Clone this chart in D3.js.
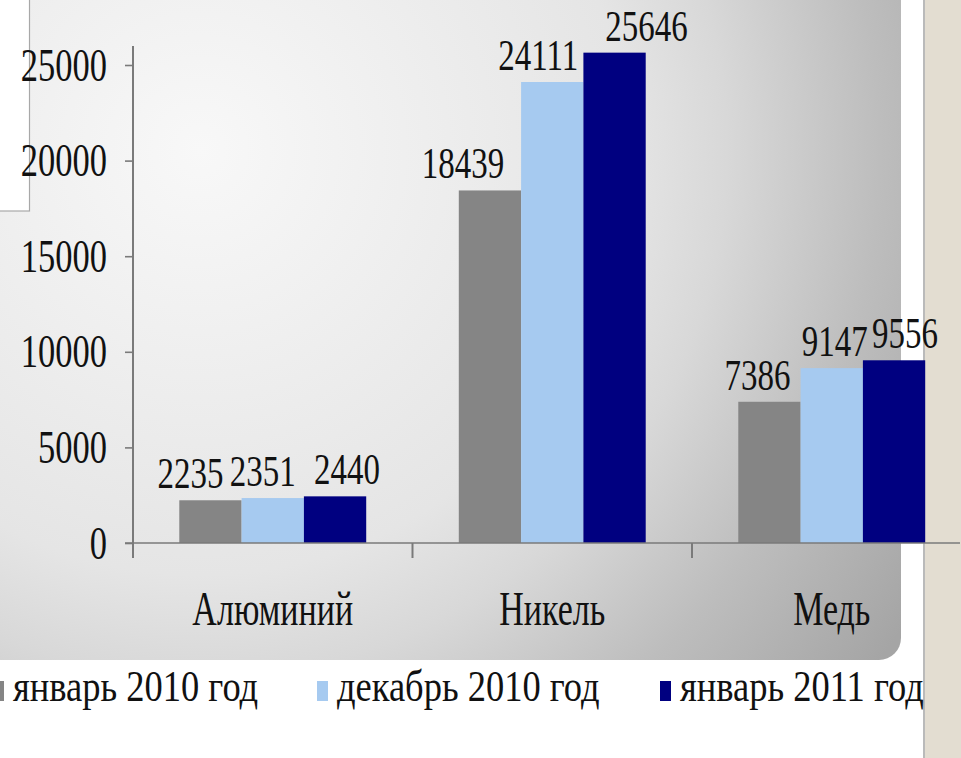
<!DOCTYPE html>
<html>
<head>
<meta charset="utf-8">
<script src="https://cdn.jsdelivr.net/npm/d3@7"></script>
<style>
  html, body { margin: 0; padding: 0; background: #ffffff; overflow: hidden; }
  svg { display: block; }
  text { font-family: "Liberation Serif", "Times New Roman", serif; fill: #111; }
</style>
</head>
<body>
<svg id="chart" width="961" height="758"></svg>
<script>
// Metal prices, by metal and month
const categories = ["Алюминий", "Никель", "Медь"];
const seriesNames = ["январь 2010 год", "декабрь 2010 год", "январь 2011 год"];
const jan2010 = [2235, 18439, 7386];
const dec2010 = [2351, 24111, 9147];
const jan2011 = [2440, 25646, 9556];
const yTicks = [0, 5000, 10000, 15000, 20000, 25000];

// small horizontal offsets for the value labels, per metal and series
const labelNudge = [[-20, -10, 12], [-27, -14, 32], [-12, 3, 11]];

const seriesColors = ["#858585", "#a6caf0", "#000080"];
const seriesValues = [jan2010, dec2010, jan2011];

const svg = d3.select("#chart");

// background: page strip on the right
svg.append("rect").attr("x", 925).attr("y", 0).attr("width", 36).attr("height", 758)
  .attr("fill", "#e3ddd1");
svg.append("line").attr("x1", 924).attr("x2", 924).attr("y1", 0).attr("y2", 758)
  .attr("stroke", "#a3a3a3").attr("stroke-width", 1.5);

// chart panel with radial grey shading
const defs = svg.append("defs");
const grad = defs.append("radialGradient").attr("id", "panelShade")
  .attr("gradientUnits", "userSpaceOnUse")
  .attr("cx", 200).attr("cy", 150).attr("r", 850).attr("fx", 200).attr("fy", 150);
[[0, "#f8f8f8"], [0.24, "#efefef"], [0.5, "#e5e5e5"], [0.62, "#d8d8d8"],
 [0.8, "#bdbdbd"], [1, "#a5a5a5"]].forEach(([o, c]) =>
  grad.append("stop").attr("offset", o).attr("stop-color", c));

svg.append("rect").attr("x", -40).attr("y", -40).attr("width", 941).attr("height", 700)
  .attr("rx", 22).attr("ry", 22).attr("fill", "url(#panelShade)");

// white box at the upper left
svg.append("rect").attr("x", -10).attr("y", -10).attr("width", 39.5).attr("height", 221)
  .attr("fill", "#ffffff").attr("stroke", "#a8a8a8").attr("stroke-width", 1.2);

// scales
const x0 = d3.scaleBand().domain(categories).range([133, 971.5]).padding(0);
const x1 = d3.scaleBand().domain(seriesNames).range([0, x0.bandwidth()])
  .paddingInner(0).paddingOuter(0.743);
const y = d3.scaleLinear().domain([0, 25000]).range([543, 65]);

// y axis
const yAxis = svg.append("g").attr("transform", "translate(133,0)")
  .call(d3.axisLeft(y).tickValues(yTicks).tickSize(8).tickPadding(18).tickFormat(d3.format("d")));
yAxis.select(".domain").remove();
yAxis.selectAll(".tick line").attr("stroke", "#7a7a7a").attr("stroke-width", 1.6);
yAxis.selectAll(".tick text")
  .attr("font-size", 34.5).attr("font-family", "Liberation Serif")
  .attr("fill", "#151515").attr("dy", "0.33em")
  .attr("transform", "scale(1,1.32)")
  .attr("y", 0);
svg.append("line").attr("x1", 133).attr("x2", 133)
  .attr("y1", y(26000)).attr("y2", y(0))
  .attr("stroke", "#7a7a7a").attr("stroke-width", 2);

// bars
const groups = svg.append("g").selectAll("g").data(categories).join("g")
  .attr("transform", d => `translate(${x0(d)},0)`);
groups.selectAll("rect")
  .data((c, ci) => seriesNames.map((s, si) => ({ s, si, v: seriesValues[si][ci] })))
  .join("rect")
  .attr("x", d => x1(d.s))
  .attr("width", x1.bandwidth())
  .attr("y", d => y(d.v))
  .attr("height", d => y(0) - y(d.v))
  .attr("fill", d => seriesColors[d.si]);

// value labels
groups.each(function (c, ci) {
  const g = d3.select(this);
  seriesNames.forEach((s, si) => {
    const v = seriesValues[si][ci];
    const cx = x1(s) + x1.bandwidth() / 2 + labelNudge[ci][si];
    g.append("text")
      .attr("transform", `translate(${cx},${y(v) - 12}) scale(1,1.32)`)
      .attr("text-anchor", "middle")
      .attr("font-size", 33)
      .attr("fill", "#151515")
      .text(v);
  });
});

// x axis line and tick marks at category boundaries
svg.append("line").attr("x1", 125).attr("x2", 960).attr("y1", y(0)).attr("y2", y(0))
  .attr("stroke", "#7a7a7a").attr("stroke-width", 1.6);
svg.append("g").selectAll("line").data(categories).join("line")
  .attr("x1", d => x0(d)).attr("x2", d => x0(d))
  .attr("y1", y(0)).attr("y2", y(0) + 15)
  .attr("stroke", "#7a7a7a").attr("stroke-width", 2);

// category labels
svg.append("g").selectAll("text").data(categories).join("text")
  .attr("transform", d => `translate(${x0(d) + x0.bandwidth() / 2},625) scale(1,1.4)`)
  .attr("text-anchor", "middle")
  .attr("font-size", 34)
  .attr("fill", "#151515")
  .text(d => d);

// legend
const legendX = [7, 331, 674];
const legend = svg.append("g").selectAll("g").data(seriesNames).join("g")
  .attr("transform", (d, i) => `translate(${legendX[i]},701)`);
legend.append("rect")
  .attr("x", -14).attr("y", -20).attr("width", 11).attr("height", 20)
  .attr("fill", (d, i) => seriesColors[i]);
legend.append("text")
  .attr("x", 6)
  .attr("transform", "scale(1,1.2)")
  .attr("font-size", 36.5)
  .attr("fill", "#151515")
  .text(d => d);
</script>
</body>
</html>
